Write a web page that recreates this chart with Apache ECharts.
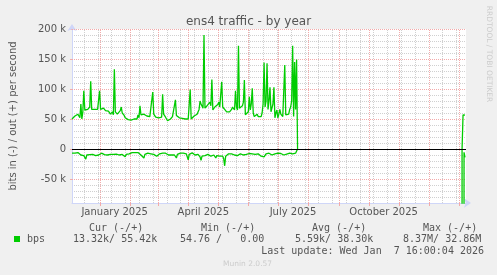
<!DOCTYPE html>
<html><head><meta charset="utf-8">
<script src="https://cdn.jsdelivr.net/npm/echarts@6/dist/echarts.min.js"></script>
<style>html,body{margin:0;padding:0;background:#f0f0f0;}#c{width:497px;height:275px;}</style>
</head><body><div id="c"></div>
<script>
// ---- data (values in k bits/s, one value per day from startDate) ----
const startDate = '2024-12-03T16:00:00Z';
const spanDays = 400;
const outK = [
50,51,53,55,57,54,58,60,52,75,
50,62,97,65,62,63,66,64,70,113,
66,64,68,66,67,65,66,64,97,66,
67,65,68,66,64,62,65,63,60,58,
60,62,57,133,62,60,58,57,59,64,
70,60,58,56,52,50,51,49,49,51,
48,49,48,50,48,48,50,57,52,72,
57,54,55,58,57,60,55,53,52,54,
53,56,95,58,55,53,54,53,52,52,
55,53,91,58,55,53,50,47,45,48,
50,52,54,56,55,82,56,54,53,52,
55,52,51,50,51,50,49,47,50,52,
99,50,48,52,55,53,56,58,60,66,
80,75,72,68,190,68,70,72,75,70,
78,72,116,65,66,70,68,72,74,78,
70,72,112,70,68,66,65,62,64,60,
62,60,66,70,68,65,97,70,65,172,
68,70,66,72,78,115,57,60,58,62,
87,65,75,101,60,54,56,55,58,54,
55,53,54,60,75,144,70,80,143,66,
80,103,62,60,75,103,52,60,65,52,
58,66,58,55,54,56,140,57,55,54,
58,66,70,80,172,54,145,66,149,0
];
const inK = [
-7,-7.5,-8,-7,-8,-7.5,-6,-7,-9,-10,
-11,-10,-11,-12,-17,-10,-8,-9,-9.5,-10,
-10,-9,-10.5,-10,-11,-10,-9.5,-10,-10,-8,
-7,-9,-9,-9.5,-8.5,-9,-10,-9,-9,-9,
-8,-7,-9,-8.5,-8,-8.5,-9,-9,-10,-11,
-10,-9,-10,-12,-13,-9,-7,-7.5,-8,-6.5,
-6,-6,-7,-5,-6,-5.5,-7,-6,-7,-9,
-10,-11,-13,-15,-9,-8,-7,-7,-6,-7,
-8,-8.5,-9,-9,-8,-10,-12,-15,-9,-8,
-7,-6.5,-7,-6,-7.5,-7,-8,-9,-10,-10,
-9,-10,-12,-13,-10,-8,-15,-9,-8,-7,
-7,-7.5,-8,-7,-6.5,-7,-8,-13,-18,-9,
-8,-7,-6.5,-7,-9,-10,-11,-12,-9,-11,
-13,-19,-12,-11,-9,-11,-10,-12,-9,-8,
-10,-12,-15,-11,-10,-12,-15,-11,-10,-13,
-12,-14,-11,-12,-16,-28,-12,-10,-9,-8,
-7,-6,-8,-7.5,-9,-10,-8.5,-9,-11,-13,
-9,-8,-8.5,-9,-10,-9.5,-10,-9,-8,-7,
-7.5,-8,-7,-8,-9,-10,-9,-8,-7.5,-8,
-10,-11,-12,-13,-10,-13,-10,-8,-9,-8,
-7,-8,-9,-10,-9,-8.5,-8,-9,-8,-7,
-7,-8,-7.5,-7,-8,-10,-9,-8,-8.5,-9,
-8,-7,-8,-9,-8,-7,-8,-7,-6,0
];
const tailStartDay = 396;
const outTailK = [0, 57, 58, 56.5];
const inTailK = [0, -8370, -5.5, -14];

// ---- axis ticks / labels ----
const yMin = -90, yMax = 200, yMinorStep = 10;
const yMajorTicks = [-50, 0, 50, 100, 150, 200];
const monthStarts = ['2025-01-01','2025-02-01','2025-03-01','2025-04-01','2025-05-01','2025-06-01','2025-07-01','2025-08-01','2025-09-01','2025-10-01','2025-11-01','2025-12-01','2026-01-01'];
const labelDates = ['2025-01-16','2025-04-16','2025-07-16','2025-10-16'];
const labelTexts = ['January 2025','April 2025','July 2025','October 2025'];
const biweeklyStart = '2024-12-16';

// ---- legend texts ----
const legendName = 'bps';
const colHeads = ['Cur (-/+)','Min (-/+)','Avg (-/+)','Max (-/+)'];
const colVals = ['13.32k/ 55.42k','54.76 /   0.00','5.59k/ 38.30k','8.37M/ 32.86M'];
const lastUpdate = 'Last update: Wed Jan  7 16:00:04 2026';

const DAY = 86400000;
const startTs = Date.parse(startDate);
const endTs = startTs + spanDays * DAY;
const toTs = s => Date.parse(s + 'T00:00:00Z');
const monthTs = monthStarts.map(toTs);
const labelTs = labelDates.map(toTs);
const biweekTs = [];
for (let t = toTs(biweeklyStart); t < endTs; t += 14 * DAY) biweekTs.push(t);

function build(head, tail) {
  const d = head.map((v, i) => [startTs + i * DAY, v]);
  d.push([startTs + head.length * DAY, null]);
  tail.forEach((v, i) => d.push([startTs + (tailStartDay + i) * DAY, v]));
  return d;
}

const GREEN = '#00cc00';
const MINOR = '#d0d0d0';
const MAJOR = '#f3aaaa';
const AXIS = '#CFD6F8';
const TEXT = '#555555';
const SANS = 'DejaVu Sans';
const MONO = 'DejaVu Sans Mono';

function gridSeries(name, items, color) {
  return {name, type:'line', yAxisIndex:0, data:[], silent:true,
    markLine:{z:1, silent:true, symbol:'none', label:{show:false}, animation:false,
      lineStyle:{color, type:[1,1], width:1}, emphasis:{disabled:true}, data:items}};
}

const chart = echarts.init(document.getElementById('c'));
const mono = (x, y, text, align) => ({type:'text', x, y, style:{text, font:'10px ' + MONO, fill:TEXT, textAlign:align || 'left', textVerticalAlign:'middle'}});
const graphics = [
  {type:'rect', shape:{x:14, y:236, width:6, height:6}, style:{fill:GREEN}},
  mono(27, 239.5, legendName),
  mono(89, 228, colHeads[0]), mono(201, 228, colHeads[1]), mono(312, 228, colHeads[2]), mono(423, 228, colHeads[3]),
  mono(73, 239.5, colVals[0]), mono(180, 239.5, colVals[1]), mono(295, 239.5, colVals[2]), mono(403, 239.5, colVals[3]),
  mono(484, 251, lastUpdate, 'right'),
  {type:'text', x:223, y:264, style:{text:'Munin 2.0.57', font:'7.5px ' + SANS, fill:'#cccccc', textVerticalAlign:'middle'}},
  {type:'text', x:489, y:54, rotation:-Math.PI/2, style:{text:'RRDTOOL / TOBI OETIKER', font:'7.5px ' + SANS, fill:'#cccccc', textAlign:'center', textVerticalAlign:'middle'}}
];

chart.setOption({
  backgroundColor:'#f0f0f0',
  animation:false,
  title:{text:'ens4 traffic - by year', left:'center', top:11, textStyle:{fontFamily:SANS, fontSize:12, fontWeight:'normal', color:TEXT}},
  grid:{left:66, right:31, top:29, bottom:72, show:true, backgroundColor:'#ffffff', borderWidth:0},
  xAxis:{type:'value', position:'bottom', min:startTs, max:endTs,
     axisLine:{show:true, onZero:false, lineStyle:{color:AXIS}, symbol:['none','arrow'], symbolSize:[7,7], symbolOffset:[0,5]},
     axisTick:{show:true, customValues:monthTs, length:3, lineStyle:{color:MAJOR}},
     axisLabel:{customValues:labelTs, formatter:v => labelTexts[labelTs.indexOf(+v)] || '', color:TEXT, fontFamily:SANS, fontSize:10, margin:4, hideOverlap:false},
     splitLine:{show:false}},
  yAxis:[
    {type:'value', min:yMin, max:yMax, interval:yMinorStep,
     axisLine:{show:true, onZero:false, lineStyle:{color:AXIS}, symbol:['none','arrow'], symbolSize:[7,7], symbolOffset:[0,5]},
     axisTick:{show:false}, axisLabel:{show:false},
     splitLine:{show:true, lineStyle:{color:MINOR, type:[1,1]}},
     name:'bits in (-) / out (+) per second', nameLocation:'middle', nameGap:54,
     nameTextStyle:{color:TEXT, fontFamily:SANS, fontSize:10}},
    {type:'value', min:yMin, max:yMax, position:'left',
     axisLine:{show:false}, axisTick:{show:true, customValues:yMajorTicks, length:2, lineStyle:{color:MAJOR}},
     axisLabel:{customValues:yMajorTicks, formatter:v => (+v === 0 ? '0' : v + ' k'), color:TEXT, fontFamily:SANS, fontSize:10, margin:6},
     splitLine:{show:false}}
  ],
  series:[
    gridSeries('gridMinorX', biweekTs.map(t => ({xAxis:t})), MINOR),
    gridSeries('gridMajorX', monthTs.map(t => ({xAxis:t})), MAJOR),
    gridSeries('gridMajorY', yMajorTicks.map(v => ({yAxis:v})), MAJOR),
    {name:'out', type:'line', yAxisIndex:0, z:3, data:build(outK, outTailK), showSymbol:false, symbol:'none',
     lineStyle:{color:GREEN, width:1.3}, itemStyle:{color:GREEN}, connectNulls:false, clip:true,
     markLine:{silent:true, symbol:'none', label:{show:false}, lineStyle:{color:'#000', type:'solid', width:1}, data:[{yAxis:0}]}},
    {name:'in', type:'line', yAxisIndex:0, z:3, data:build(inK, inTailK), showSymbol:false, symbol:'none',
     lineStyle:{color:GREEN, width:1.3}, itemStyle:{color:GREEN}, connectNulls:false, clip:true}
  ],
  graphic:graphics
});
</script></body></html>
